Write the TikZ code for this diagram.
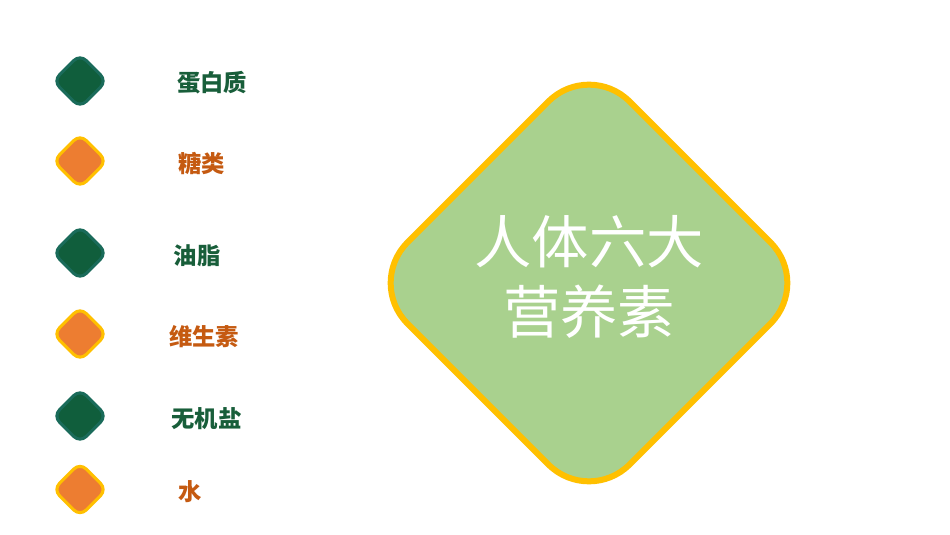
\documentclass[tikz,border=0pt]{standalone}
\usepackage{fontspec}
\newfontfamily\cjk{Noto Sans CJK SC}
\usetikzlibrary{shapes.geometric, positioning}
\definecolor{leafGreen}{RGB}{169,209,142}
\definecolor{goldRim}{RGB}{255,192,0}
\definecolor{darkGreen}{RGB}{16,94,60}
\definecolor{tealRim}{RGB}{26,107,90}
\definecolor{orangeFill}{RGB}{237,125,49}
\definecolor{greenText}{RGB}{24,94,58}
\definecolor{orangeText}{RGB}{197,90,17}

\begin{document}
\begin{tikzpicture}[x=0.75pt, y=-0.75pt,
    greenDiamond/.style={diamond, draw=tealRim, fill=darkGreen, line width=2.3pt, minimum size=41pt, inner sep=0pt, rounded corners=6.5pt},
    orangeDiamond/.style={diamond, draw=goldRim, fill=orangeFill, line width=2.3pt, minimum size=41pt, inner sep=0pt, rounded corners=6.5pt},
    greenLabel/.style={text=greenText, font=\cjk\bfseries\fontsize{17.5}{20}\selectfont, inner sep=0pt},
    orangeLabel/.style={text=orangeText, font=\cjk\bfseries\fontsize{17.5}{20}\selectfont, inner sep=0pt}]
\useasboundingbox[fill=white] (0,0) rectangle (950,535);

% big diamond
\node[diamond, draw=goldRim, fill=leafGreen, line width=4.5pt, minimum size=335pt, inner sep=0pt, rounded corners=43pt] (mainDiamond) at (589,283) {};
\node[text=white, align=center, font=\cjk\fontsize{43}{52.5}\selectfont] (mainTitle) at (589,277) {人体六大\\营养素};

% left list
\node[greenDiamond] (proteinDiamond) at (80,81) {};
\node[greenLabel] (proteinLabel) at (212,83) {蛋白质};
\node[orangeDiamond] (sugarDiamond) at (80,161) {};
\node[orangeLabel] (sugarLabel) at (201.5,163) {糖类};
\node[greenDiamond] (fatDiamond) at (80,253) {};
\node[greenLabel] (fatLabel) at (197,256) {油脂};
\node[orangeDiamond] (vitaminDiamond) at (80,334) {};
\node[orangeLabel] (vitaminLabel) at (204,336.5) {维生素};
\node[greenDiamond] (mineralDiamond) at (80,416) {};
\node[greenLabel] (mineralLabel) at (206.5,418.5) {无机盐};
\node[orangeDiamond] (waterDiamond) at (80,489.5) {};
\node[orangeLabel] (waterLabel) at (190,492) {水};

\end{tikzpicture}
\end{document}
